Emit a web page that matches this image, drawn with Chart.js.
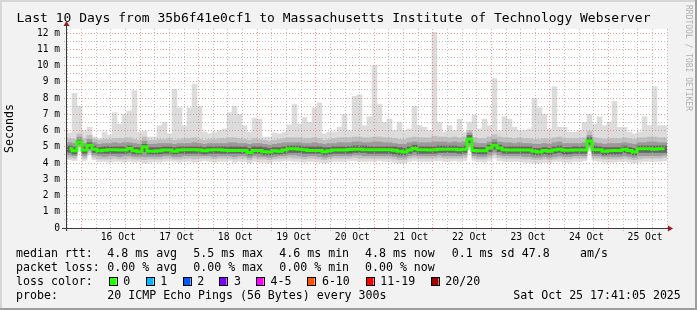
<!DOCTYPE html>
<html><head><meta charset="utf-8">
<script src="https://cdn.jsdelivr.net/npm/chart.js@4.4.1/dist/chart.umd.min.js"></script>
<style>html,body{margin:0;padding:0;background:#f2f2f2;overflow:hidden}canvas{display:block}</style>
</head><body>
<canvas id="c" width="697" height="310"></canvas>
<script>
// ---------- data (ms), 2-hour slots starting Wed 15 Oct 18:00 ----------
const TITLE = 'Last 10 Days from 35b6f41e0cf1 to Massachusetts Institute of Technology Webserver';
const dayLabels = ['16 Oct','17 Oct','18 Oct','19 Oct','20 Oct','21 Oct','22 Oct','23 Oct','24 Oct','25 Oct'];
const yTickLabels = ['0','1 m','2 m','3 m','4 m','5 m','6 m','7 m','8 m','9 m','10 m','11 m','12 m'];

const median = [
 4.88,4.75,5.3,4.8,5.1,4.85,4.75,4.78,4.82,4.82,4.8,4.8,
 4.9,4.75,4.7,5.0,4.72,4.72,4.75,4.8,4.8,4.72,4.8,4.82,
 4.82,4.82,4.8,4.75,4.8,4.82,4.82,4.78,4.77,4.77,4.77,4.77,
 4.65,4.77,4.77,4.7,4.68,4.75,4.72,4.8,4.88,4.88,4.85,4.82,
 4.77,4.77,4.77,4.7,4.75,4.8,4.8,4.8,4.83,4.85,4.85,4.82,
 4.82,4.82,4.82,4.82,4.82,4.78,4.72,4.68,4.8,4.9,4.82,4.82,
 4.8,4.82,4.85,4.85,4.85,4.85,4.82,4.85,5.48,4.77,4.75,4.75,
 4.92,5.1,4.92,4.82,4.8,4.8,4.8,4.8,4.8,4.72,4.68,4.77,
 4.72,4.8,4.85,4.78,4.78,4.8,4.8,4.8,5.35,4.82,4.82,4.72,
 4.75,4.77,4.77,4.85,4.77,4.68,4.88,4.88,4.88,4.85,4.88,4.88];

const maxv = [
 5.85,8.3,7.5,6.0,6.2,5.6,5.5,5.9,5.7,7.1,6.4,7.0,
 7.2,8.45,5.9,5.95,5.6,5.6,6.3,6.5,5.8,8.55,7.4,6.3,
 7.4,8.86,7.5,5.9,5.8,5.9,6.0,6.1,7.1,7.5,7.0,6.3,
 5.9,6.75,6.7,5.6,5.6,5.85,5.8,5.9,6.35,7.6,6.4,6.8,
 6.5,7.4,7.7,5.8,5.9,5.9,6.2,7.0,6.0,8.1,8.2,6.3,
 6.85,10.0,7.6,6.5,6.7,6.0,6.5,6.0,6.1,7.5,6.3,6.2,
 6.0,12.05,6.5,5.9,6.3,6.0,6.7,5.9,6.5,6.95,6.1,6.7,
 6.3,9.2,6.0,6.85,6.7,6.2,6.0,6.0,6.1,8.0,7.4,7.0,
 6.1,8.7,6.2,6.2,5.9,5.9,6.0,6.5,7.0,6.4,6.85,6.3,
 6.5,7.8,6.2,6.2,5.9,5.8,5.9,6.85,6.3,8.7,6.3,6.3];

const minv = [
 4.2,4.15,4.95,4.15,4.5,4.2,4.1,4.1,4.05,4.1,4.1,4.05,
 4.1,4.05,4.1,4.0,4.05,4.1,4.05,4.1,4.15,4.1,4.05,4.1,
 4.1,4.05,4.1,4.15,4.1,4.05,4.1,4.1,4.15,4.05,4.1,4.1,
 4.0,4.1,4.05,4.05,4.0,4.1,4.1,4.15,4.15,4.1,4.1,4.05,
 4.1,4.1,4.05,4.0,4.05,4.1,4.1,4.1,4.15,4.15,4.1,4.1,
 4.1,4.1,4.15,4.1,4.1,4.05,4.0,4.0,4.1,4.15,4.1,4.1,
 4.1,4.15,4.15,4.1,4.1,4.15,4.1,4.15,4.9,4.15,4.1,4.05,
 4.15,4.3,4.15,4.1,4.1,4.1,4.1,4.05,4.05,4.0,4.0,4.05,
 4.0,4.1,4.1,4.05,4.05,4.1,4.1,4.15,4.85,4.15,4.1,4.05,
 4.05,4.05,4.1,4.1,4.05,4.0,4.05,4.1,4.1,4.1,4.1,4.15];

const lo2 = [
 4.35,4.3,5.0,4.3,4.65,4.35,4.25,4.25,4.25,4.3,4.25,4.25,
 4.3,4.25,4.25,4.2,4.25,4.25,4.25,4.3,4.3,4.25,4.25,4.3,
 4.3,4.25,4.3,4.3,4.3,4.25,4.3,4.3,4.3,4.25,4.3,4.3,
 4.2,4.3,4.25,4.25,4.2,4.25,4.3,4.3,4.35,4.3,4.3,4.25,
 4.3,4.3,4.25,4.2,4.25,4.3,4.3,4.3,4.3,4.35,4.3,4.3,
 4.3,4.3,4.3,4.3,4.3,4.25,4.2,4.2,4.3,4.35,4.3,4.3,
 4.3,4.3,4.35,4.3,4.3,4.3,4.3,4.35,5.0,4.3,4.25,4.25,
 4.35,4.5,4.35,4.3,4.3,4.3,4.3,4.25,4.25,4.2,4.2,4.25,
 4.2,4.25,4.3,4.25,4.25,4.3,4.3,4.3,4.95,4.3,4.3,4.25,
 4.25,4.25,4.25,4.3,4.25,4.2,4.25,4.3,4.3,4.3,4.3,4.35];

const hi2 = [
 5.5,5.45,5.8,5.5,5.7,5.45,5.4,5.45,5.45,5.5,5.5,5.5,
 5.55,5.45,5.4,5.6,5.4,5.4,5.45,5.45,5.5,5.4,5.45,5.5,
 5.5,5.55,5.45,5.4,5.45,5.45,5.5,5.5,5.55,5.55,5.5,5.45,
 5.4,5.5,5.45,5.4,5.35,5.4,5.45,5.5,5.55,5.55,5.55,5.5,
 5.5,5.55,5.5,5.4,5.45,5.5,5.55,5.55,5.55,5.6,5.6,5.55,
 5.55,5.6,5.6,5.55,5.55,5.5,5.45,5.45,5.55,5.6,5.55,5.55,
 5.55,5.65,5.6,5.6,5.55,5.6,5.55,5.6,6.0,5.55,5.5,5.5,
 5.6,5.75,5.6,5.55,5.55,5.5,5.55,5.5,5.5,5.45,5.45,5.5,
 5.45,5.55,5.6,5.5,5.5,5.5,5.5,5.55,5.95,5.55,5.5,5.45,
 5.5,5.5,5.5,5.55,5.5,5.45,5.55,5.55,5.6,5.6,5.55,5.55];

const lo3 = [
 4.5,4.45,5.1,4.45,4.8,4.5,4.45,4.4,4.45,4.45,4.4,4.45,
 4.45,4.4,4.4,4.4,4.4,4.4,4.4,4.45,4.45,4.4,4.4,4.45,
 4.45,4.45,4.45,4.45,4.45,4.4,4.45,4.45,4.45,4.4,4.45,4.45,
 4.35,4.45,4.4,4.4,4.35,4.4,4.45,4.45,4.5,4.5,4.45,4.4,
 4.45,4.45,4.4,4.35,4.4,4.45,4.45,4.45,4.45,4.5,4.5,4.45,
 4.45,4.45,4.45,4.45,4.45,4.4,4.35,4.35,4.45,4.5,4.45,4.45,
 4.45,4.45,4.5,4.45,4.45,4.45,4.45,4.5,5.1,4.45,4.4,4.4,
 4.5,4.65,4.5,4.45,4.45,4.45,4.45,4.4,4.4,4.35,4.35,4.4,
 4.35,4.4,4.45,4.4,4.4,4.45,4.45,4.45,5.05,4.45,4.45,4.4,
 4.4,4.4,4.4,4.45,4.4,4.35,4.45,4.45,4.45,4.45,4.45,4.5];

const hi3 = [
 5.25,5.2,5.6,5.2,5.45,5.25,5.15,5.2,5.2,5.25,5.2,5.25,
 5.25,5.2,5.15,5.35,5.15,5.15,5.2,5.2,5.2,5.15,5.2,5.2,
 5.2,5.25,5.2,5.15,5.2,5.2,5.2,5.2,5.25,5.25,5.2,5.2,
 5.15,5.2,5.2,5.15,5.1,5.15,5.2,5.25,5.25,5.25,5.25,5.2,
 5.2,5.25,5.2,5.15,5.2,5.2,5.25,5.25,5.25,5.3,5.3,5.25,
 5.25,5.3,5.3,5.25,5.25,5.2,5.15,5.15,5.25,5.3,5.25,5.25,
 5.25,5.3,5.3,5.3,5.25,5.3,5.25,5.3,5.85,5.25,5.2,5.2,
 5.3,5.45,5.3,5.25,5.25,5.2,5.25,5.2,5.2,5.15,5.15,5.2,
 5.15,5.25,5.3,5.2,5.2,5.2,5.2,5.25,5.7,5.25,5.2,5.15,
 5.2,5.2,5.2,5.25,5.2,5.15,5.25,5.25,5.3,5.3,5.25,5.25];

const lo4 = [
 4.65,4.55,5.2,4.6,4.9,4.65,4.6,4.6,4.6,4.6,4.6,4.6,
 4.65,4.55,4.55,4.7,4.55,4.55,4.55,4.6,4.6,4.55,4.6,4.6,
 4.6,4.6,4.6,4.55,4.6,4.6,4.6,4.6,4.6,4.6,4.6,4.6,
 4.5,4.6,4.6,4.5,4.5,4.55,4.55,4.6,4.65,4.65,4.65,4.6,
 4.6,4.6,4.6,4.5,4.55,4.6,4.6,4.6,4.6,4.65,4.65,4.65,
 4.6,4.6,4.6,4.6,4.6,4.55,4.5,4.5,4.6,4.7,4.6,4.6,
 4.6,4.6,4.65,4.65,4.65,4.65,4.6,4.65,5.25,4.6,4.55,4.55,
 4.7,4.85,4.7,4.6,4.6,4.6,4.6,4.6,4.6,4.5,4.5,4.55,
 4.5,4.6,4.65,4.55,4.55,4.6,4.6,4.6,5.15,4.6,4.6,4.5,
 4.55,4.55,4.55,4.65,4.55,4.5,4.65,4.65,4.65,4.65,4.65,4.65];

const hi4 = [
 5.05,5.0,5.4,5.0,5.25,5.05,4.95,5.0,5.0,5.0,5.0,5.0,
 5.05,4.95,4.95,5.15,4.95,4.95,4.95,5.0,5.0,4.95,5.0,5.0,
 5.0,5.0,5.0,4.95,5.0,5.0,5.0,5.0,5.0,5.0,5.0,5.0,
 4.9,5.0,5.0,4.95,4.9,4.95,4.95,5.0,5.05,5.05,5.05,5.0,
 5.0,5.0,5.0,4.95,4.95,5.0,5.0,5.0,5.0,5.05,5.05,5.05,
 5.0,5.0,5.0,5.0,5.0,5.0,4.95,4.9,5.0,5.1,5.0,5.0,
 5.0,5.0,5.05,5.05,5.05,5.05,5.0,5.05,5.7,5.0,4.95,4.95,
 5.1,5.25,5.1,5.0,5.0,5.0,5.0,5.0,5.0,4.9,4.9,4.95,
 4.9,5.0,5.05,4.95,4.95,5.0,5.0,5.0,5.55,5.05,5.0,4.95,
 4.95,4.95,4.95,5.05,4.95,4.9,5.05,5.05,5.05,5.05,5.05,5.05];

// slot categories (2 h each) starting 15 Oct 18:00
const MONTHS = ['Jan','Feb','Mar','Apr','May','Jun','Jul','Aug','Sep','Oct','Nov','Dec'];
const categories = median.map((_, i) => {
  const d = new Date(Date.UTC(2025, 9, 15, 18) + i * 2 * 3600e3);
  return d.getUTCDate() + ' ' + MONTHS[d.getUTCMonth()] + ' ' + String(d.getUTCHours()).padStart(2,'0') + ':00';
});

const legendRows = [
  {label:'median rtt:',  items:[[107.3,'4.8 ms avg'],[193.3,'5.5 ms max'],[279.3,'4.6 ms min'],[365,'4.8 ms now'],[451.7,'0.1 ms sd'],[521.7,'47.8'],[580,'am/s']]},
  {label:'packet loss:', items:[[107.3,'0.00 % avg'],[193.3,'0.00 % max'],[279.3,'0.00 % min'],[365,'0.00 % now']]},
  {label:'loss color:',  items:[]},
  {label:'probe:',       items:[[107.3,'20 ICMP Echo Pings (56 Bytes) every 300s'],[513.3,'Sat Oct 25 17:41:05 2025']]}
];
const lossLabels = ['0','1','2','3','4-5','6-10','11-19','20/20'];
const lossColors = ['#26ff00','#00b8ff','#0059ff','#7e00ff','#ff00ff','#ff5500','#ff0000','#a10000'];
const lossBoxX = [108.7,145.7,182.7,219.3,256,307.3,365.7,430.7];

// ---------- chart ----------
const MONO = 'DejaVu Sans Mono';
const majorCol = 'rgba(235,120,120,0.75)';
const minorCol = 'rgba(170,170,170,0.75)';
const tv = c => (c && c.tick) ? c.tick.value : 0.5;

const band = (lo, hi, color, order) => ({
  type:'bar', data: lo.map((v,i)=>[v, hi[i]]), backgroundColor: color, borderWidth:0,
  grouped:false, barPercentage:1, categoryPercentage:1, order, xAxisID:'x', yAxisID:'y'
});

const decor = {
  id:'decor',
  beforeDraw(chart){
    const {ctx, chartArea:a, width:W, height:H} = chart;
    ctx.save();
    ctx.fillStyle = '#f2f2f2'; ctx.fillRect(0,0,W,H);
    ctx.fillStyle = '#ffffff'; ctx.fillRect(a.left, a.top, a.right-a.left, a.bottom-a.top);
    ctx.fillStyle = '#d6d6d6'; ctx.fillRect(0,0,W,2); ctx.fillRect(0,0,2,H);
    ctx.fillStyle = '#9e9e9e'; ctx.fillRect(0,H-2,W,2); ctx.fillRect(W-2,0,2,H);
    ctx.restore();
  },
  afterDraw(chart){
    const {ctx, chartArea:a} = chart;
    ctx.save();
    ctx.strokeStyle = '#3a3a3a'; ctx.lineWidth = 1;
    ctx.beginPath();
    ctx.moveTo(a.left-5, a.bottom+0.5); ctx.lineTo(a.right+2, a.bottom+0.5);
    ctx.moveTo(a.left-0.5, a.bottom+3); ctx.lineTo(a.left-0.5, a.top-4);
    ctx.stroke();
    ctx.fillStyle = '#9b1b1b';
    ctx.beginPath();
    ctx.moveTo(a.left-3.5, a.top-3); ctx.lineTo(a.left+2.5, a.top-3); ctx.lineTo(a.left-0.5, a.top-8); ctx.closePath(); ctx.fill();
    ctx.beginPath();
    ctx.moveTo(a.right+1, a.bottom-2.5); ctx.lineTo(a.right+1, a.bottom+3.5); ctx.lineTo(a.right+6, a.bottom+0.5); ctx.closePath(); ctx.fill();
    ctx.font = '11.6px "' + MONO + '"';
    ctx.textBaseline = 'middle'; ctx.textAlign = 'left'; ctx.fillStyle = '#000';
    const rowY = [254.3, 268, 282.3, 296];
    legendRows.forEach((r, k) => {
      ctx.fillText(r.label, 16, rowY[k]);
      r.items.forEach(([x, t]) => ctx.fillText(t, x, rowY[k]));
    });
    lossLabels.forEach((t, i) => {
      const bx = Math.round(lossBoxX[i]);
      ctx.fillStyle = lossColors[i]; ctx.fillRect(bx+0.5, 278, 7, 8);
      ctx.strokeStyle = '#000'; ctx.lineWidth = 1; ctx.strokeRect(bx+0.5, 277.5, 8, 8);
      ctx.fillStyle = '#000'; ctx.fillText(t, lossBoxX[i] + 14.6, rowY[2]);
    });
    ctx.translate(688, 5); ctx.rotate(Math.PI/2);
    ctx.font = '8px "' + MONO + '"'; ctx.fillStyle = '#b0b0b0';
    ctx.fillText('RRDTOOL / TOBI OETIKER', 0, 0);
    ctx.restore();
  }
};

new Chart(document.getElementById('c'), {
  type:'bar',
  data:{
    labels: categories,
    datasets:[
      band(minv, maxv, '#dcdcdc', 4),
      band(lo2, hi2, '#c0c0c0', 3),
      band(lo3, hi3, '#9a9a9a', 2),
      band(lo4, hi4, '#666666', 1),
      {type:'line', data: median, borderColor:'#26ff00', borderWidth:3, pointRadius:0,
       stepped:'middle', fill:false, order:0, xAxisID:'x', yAxisID:'y'}
    ]
  },
  options:{
    responsive:false, devicePixelRatio:1, animation:false,
    layout:{padding:{left:0, right:30, top:0, bottom:0}},
    plugins:{
      legend:{display:false}, tooltip:{enabled:false},
      title:{display:true, text:TITLE, color:'#000', font:{family:MONO, size:13, weight:'normal'}, padding:{top:11, bottom:2.4}}
    },
    scales:{
      x:{type:'category', display:false, offset:true},
      xt:{type:'linear', position:'bottom', min:0, max:240,
        afterFit:s=>{s.height = 82;},
        ticks:{stepSize:6, autoSkip:false, maxRotation:0, padding:1, color:'#000',
          font:{family:MONO, size:9.7},
          callback:v=>((v-18)%24===0 && v>=18) ? dayLabels[(v-18)/24] : ''},
        grid:{z:1, lineWidth:1, tickLength:3,
          color:c=>((tv(c)-6)%24===0 ? majorCol : minorCol),
          tickColor:c=>((tv(c)-6)%24===0 ? majorCol : minorCol),
          borderDash:[1,2], tickBorderDash:[1,1]},
        border:{display:false, dash:[1,2]}
      },
      y:{type:'linear', min:0, max:12.25,
        afterFit:s=>{s.width = 67;},
        ticks:{stepSize:0.5, includeBounds:false, autoSkip:false, padding:4, color:'#000',
          font:{family:MONO, size:9.6},
          callback:v=>Number.isInteger(v) ? yTickLabels[v] : ''},
        grid:{z:1, lineWidth:1, tickLength:3,
          color:c=>(Number.isInteger(tv(c)) ? majorCol : minorCol),
          tickColor:c=>(Number.isInteger(tv(c)) ? majorCol : minorCol),
          borderDash:[1,2], tickBorderDash:[1,1]},
        border:{display:false, dash:[1,2]},
        title:{display:true, text:'Seconds', color:'#000', font:{family:MONO, size:11.6}, padding:{top:3, bottom:0}}
      }
    }
  },
  plugins:[decor]
});
</script>
</body></html>
